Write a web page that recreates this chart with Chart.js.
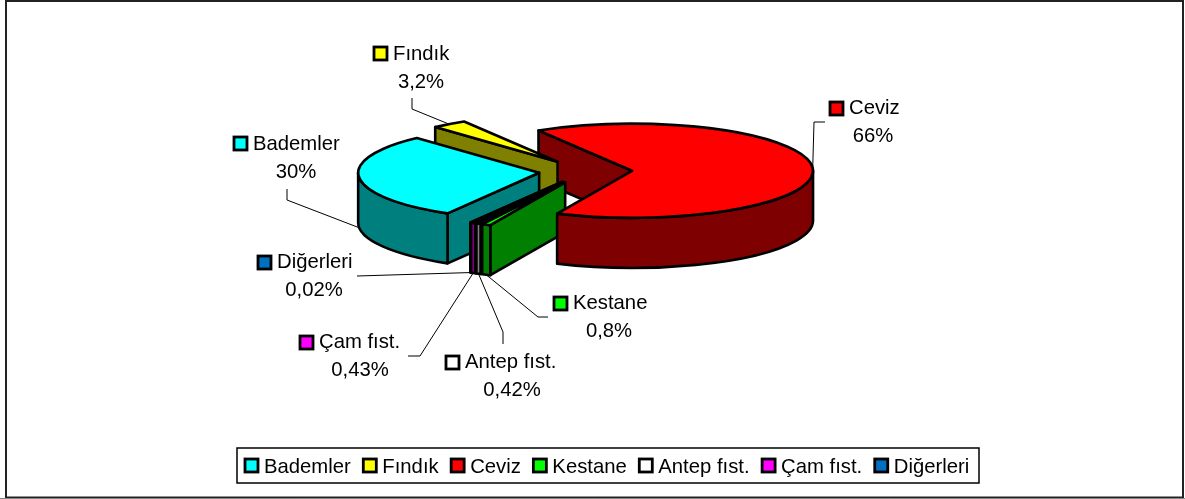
<!DOCTYPE html>
<html lang="tr">
<head>
<meta charset="utf-8">
<title>Kuruyemiş dağılımı</title>
<script src="https://cdn.jsdelivr.net/npm/chart.js@4"></script>
<style>
  html, body { margin: 0; padding: 0; background: #fff; }
  canvas { display: block; }
</style>
</head>
<body>
<canvas id="pie" width="1185" height="499"></canvas>
<script>
/* ── Data ─────────────────────────────────────────── */
const categories = ['Bademler', 'Fındık', 'Ceviz', 'Kestane', 'Antep fıst.', 'Çam fıst.', 'Diğerleri'];
const shares = [30, 3.2, 66, 0.8, 0.42, 0.43, 0.02];
const colors = ['#00FFFF', '#FFFF00', '#FF0000', '#00FF00', '#FFFFFF', '#FF00FF', '#0070C0'];

/* ── Layout ───────────────────────────────────────── */
const FONT = '20.3px "Liberation Sans", Arial, sans-serif';
const TILT = 0.26;      // ellipse height / width
const DEPTH = 50;
const RADIUS = 181;
const EXPLODE = 46.6;
const ROTATION = -149.6;
const drawOrder = [1, 0, 6, 5, 4, 3, 2];   // back to front

// key corner, first baseline, centre of the percent line, leader elbows
const labelPos = [
  { x: 233, y: 136, base: 150, px: 296, leader: [[287, 200], [287, 189]] },
  { x: 373, y: 46,  base: 60,  px: 421, leader: [[412, 109], [412, 98]] },
  { x: 829, y: 101, base: 114, px: 873, leader: [[814, 122], [825, 122]] },
  { x: 553, y: 296, base: 309, px: 609, leader: [[538, 317], [548, 317]] },
  { x: 445, y: 355, base: 368, px: 512, leader: [[503, 332], [503, 344]] },
  { x: 299, y: 335, base: 348, px: 360, leader: [[420, 356], [408, 356]] },
  { x: 257, y: 255, base: 268, px: 314, leader: [[357, 276]] }
];

const darken = hex => {
  const n = parseInt(hex.slice(1), 16);
  const h = v => (v >> 1).toString(16).padStart(2, '0');
  return '#' + h(n >> 16 & 255) + h(n >> 8 & 255) + h(n & 255);
};

const fmtShare = v => String(v).replace('.', ',') + '%';

function geom(arc) {
  const mid = (arc.startAngle + arc.endAngle) / 2;
  const cx = arc.x + Math.cos(mid) * EXPLODE;
  const cy = arc.y + Math.sin(mid) * EXPLODE * TILT;
  const rim = a => [cx + Math.cos(a) * arc.outerRadius, cy + Math.sin(a) * arc.outerRadius * TILT];
  return { mid, cx, cy, rim, r: arc.outerRadius };
}

function paint(ctx, fill) {
  ctx.fillStyle = fill;
  ctx.fill();
  ctx.stroke();
}

function drawStartFace(ctx, arc) {
  if (Math.cos(arc.startAngle) >= 0) return;
  const g = geom(arc);
  const [rx, ry] = g.rim(arc.startAngle);
  ctx.beginPath();
  ctx.moveTo(g.cx, g.cy);
  ctx.lineTo(rx, ry);
  ctx.lineTo(rx, ry + DEPTH);
  ctx.lineTo(g.cx, g.cy + DEPTH);
  ctx.closePath();
  paint(ctx, darken(arc.options.backgroundColor));
}

function drawOuterWall(ctx, arc) {
  const g = geom(arc);
  const TAU = Math.PI * 2;
  // only the front half of the rim shows
  for (let n = -1; n <= 1; n++) {
    const lo = Math.max(arc.startAngle, n * TAU);
    const hi = Math.min(arc.endAngle, n * TAU + Math.PI);
    if (hi <= lo) continue;
    ctx.beginPath();
    ctx.ellipse(g.cx, g.cy, g.r, g.r * TILT, 0, lo, hi);
    ctx.ellipse(g.cx, g.cy + DEPTH, g.r, g.r * TILT, 0, hi, lo, true);
    ctx.closePath();
    paint(ctx, darken(arc.options.backgroundColor));
  }
}

function drawTop(ctx, arc) {
  const g = geom(arc);
  ctx.beginPath();
  ctx.moveTo(g.cx, g.cy);
  ctx.ellipse(g.cx, g.cy, g.r, g.r * TILT, 0, arc.startAngle, arc.endAngle);
  ctx.closePath();
  paint(ctx, arc.options.backgroundColor);
}

function drawKey(ctx, x, y, color) {
  ctx.fillStyle = color;
  ctx.fillRect(x + 1, y + 1, 13, 13);
  ctx.lineWidth = 2.8;
  ctx.strokeStyle = '#000';
  ctx.strokeRect(x + 1, y + 1, 13, 13);
}

/* ── Pie drawn as a tilted 3D pie from the arc elements ── */
const pie3d = {
  id: 'pie3d',
  beforeDraw(chart) {
    const ctx = chart.ctx;
    ctx.save();
    ctx.fillStyle = '#fff';
    ctx.fillRect(0, 0, chart.width, chart.height);
    ctx.strokeStyle = '#222';
    ctx.lineWidth = 2;
    ctx.strokeRect(6, 1, 1177, 496.5);
    ctx.strokeStyle = '#888';
    ctx.lineWidth = 1;
    ctx.beginPath();
    ctx.moveTo(0, 498.5);
    ctx.lineTo(chart.width, 498.5);
    ctx.stroke();
    ctx.restore();
  },
  beforeDatasetsDraw(chart) {
    const ctx = chart.ctx;
    const arcs = chart.getDatasetMeta(0).data;
    ctx.save();
    ctx.lineWidth = 2.6;
    ctx.lineJoin = 'round';
    ctx.strokeStyle = '#000';
    // the big slice's cut face sits behind everything else
    drawStartFace(ctx, arcs[2]);
    drawOrder.forEach(i => {
      if (i !== 2) drawStartFace(ctx, arcs[i]);
      drawOuterWall(ctx, arcs[i]);
      drawTop(ctx, arcs[i]);
    });
    ctx.restore();
    return false;
  },
  afterDraw(chart) {
    const ctx = chart.ctx;
    const arcs = chart.getDatasetMeta(0).data;
    ctx.save();

    /* ── Leader lines ── */
    ctx.strokeStyle = '#000';
    ctx.lineWidth = 1;
    arcs.forEach((arc, i) => {
      const g = geom(arc);
      const [sx, sy] = g.rim(g.mid);
      const front = Math.sin(g.mid) > 0;
      ctx.beginPath();
      ctx.moveTo(sx, sy + (front ? DEPTH : 0));
      labelPos[i].leader.forEach(p => ctx.lineTo(p[0], p[1]));
      ctx.stroke();
    });

    /* ── Data labels ── */
    ctx.font = FONT;
    ctx.textBaseline = 'alphabetic';
    categories.forEach((name, i) => {
      const p = labelPos[i];
      drawKey(ctx, p.x, p.y, colors[i]);
      ctx.fillStyle = '#000';
      ctx.textAlign = 'left';
      ctx.fillText(name, p.x + 20, p.base);
      ctx.textAlign = 'center';
      ctx.fillText(fmtShare(shares[i]), p.px, p.base + 28);
    });

    /* ── Legend ── */
    ctx.strokeStyle = '#000';
    ctx.lineWidth = 1.5;
    ctx.strokeRect(237, 448, 742, 35);
    ctx.textAlign = 'left';
    let x = 244;
    categories.forEach((name, i) => {
      drawKey(ctx, x, 458, colors[i]);
      ctx.fillStyle = '#000';
      ctx.fillText(name, x + 20, 473);
      x += 20 + ctx.measureText(name).width + 11.5;
    });
    ctx.restore();
  }
};

new Chart(document.getElementById('pie'), {
  type: 'pie',
  data: {
    labels: categories,
    datasets: [{
      data: shares,
      backgroundColor: colors,
      borderColor: '#000',
      borderWidth: 2,
      radius: RADIUS,
      offset: EXPLODE
    }]
  },
  options: {
    responsive: false,
    animation: false,
    rotation: ROTATION,
    layout: { padding: { left: 0, right: 14, top: 0, bottom: 156 } },
    plugins: { legend: { display: false }, tooltip: { enabled: false } }
  },
  plugins: [pie3d]
});
</script>
</body>
</html>
